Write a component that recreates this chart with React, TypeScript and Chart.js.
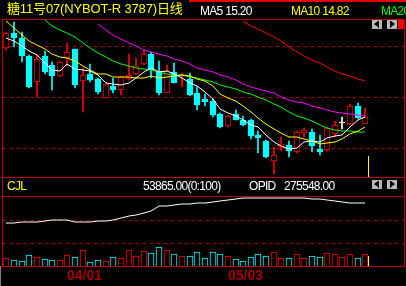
import React, { useEffect, useRef } from "react";
import { Chart, registerables } from "chart.js";

Chart.register(...registerables);

// ---------- text ----------
const titleText = "糖11号07(NYBOT-R 3787)日线";
const legendNames = ["MA5", "MA10", "MA20"];
const legendValues = ["15.20", "14.82", "14.61"];
const volumeTitle = "CJL";
const volumeValueText = "53865.00(0:100)";
const oiName = "OPID";
const oiValueText = "275548.00";

// ---------- x axis date ticks ----------
const dateTickIndex = [8, 29];
const dateTickLabel = ["04/01", "05/03"];

// ---------- daily candles ----------
const opens = [17.91, 18.51, 18.3, 17.6, 16.58, 17.62, 17.25, 16.84, 17.54, 17.88, 16.63, 16.91, 16.71, 15.97, 16.44, 16.27, 16.71, 16.89, 17.28, 17.69, 17.03, 16.17, 16.97, 16.84, 16.71, 16.17, 15.91, 15.85, 15.33, 14.85, 15.33, 15.11, 15.11, 14.51, 14.29, 13.5, 14.03, 14.12, 13.83, 14.58, 14.62, 13.96, 13.91, 14.54, 14.97, 14.94, 15.64, 14.96];
const highs = [18.55, 18.94, 18.54, 17.63, 17.65, 17.8, 17.36, 17.41, 18.12, 17.9, 17.14, 17.31, 16.75, 16.55, 16.73, 16.82, 17.69, 17.53, 17.84, 17.78, 17.42, 17.25, 17.35, 16.94, 16.94, 16.4, 16.12, 15.91, 15.37, 15.29, 15.5, 15.25, 15.14, 14.67, 14.31, 14.04, 14.43, 14.29, 14.67, 14.78, 14.75, 14.51, 14.81, 15.07, 15.22, 15.71, 15.75, 15.56];
const lows = [17.85, 17.95, 17.38, 16.34, 16.01, 16.92, 16.29, 16.8, 17.23, 16.37, 15.42, 16.6, 16.13, 15.96, 16.16, 16.08, 16.67, 16.86, 17.25, 16.75, 16.08, 16.16, 16.55, 16.38, 16.04, 15.49, 15.65, 15.2, 14.77, 14.82, 15.1, 14.86, 14.35, 13.8, 13.59, 12.98, 13.88, 13.65, 13.8, 14.43, 13.84, 13.73, 13.89, 14.43, 14.75, 14.92, 15.14, 14.94];
const closes = [18.5, 18.3, 17.6, 16.39, 17.49, 16.97, 16.84, 17.36, 17.75, 16.47, 16.86, 16.68, 16.21, 16.5, 16.29, 16.77, 16.86, 17.22, 17.69, 17.06, 16.15, 17.03, 16.56, 16.85, 16.08, 15.69, 15.8, 15.29, 14.81, 15.27, 15.11, 14.9, 14.46, 14.38, 13.64, 13.73, 14.16, 13.89, 14.62, 14.7, 14.09, 13.83, 14.77, 14.9, 14.97, 15.64, 15.17, 15.2];

// ---------- moving averages ----------
const ma5 = [18.3, 18.2, 18.01, 17.79, 17.66, 17.35, 17.06, 17.01, 17.28, 17.08, 17.06, 17.02, 16.85, 16.54, 16.51, 16.49, 16.53, 16.73, 16.97, 17.12, 17.0, 17.03, 16.9, 16.73, 16.53, 16.44, 16.2, 15.94, 15.53, 15.37, 15.26, 15.08, 14.91, 14.82, 14.5, 14.22, 14.07, 13.96, 14.01, 14.22, 14.29, 14.23, 14.4, 14.46, 14.51, 14.82, 15.09, 15.2];
const ma10 = [18.98, 18.71, 18.42, 18.2, 18.04, 17.88, 17.69, 17.56, 17.52, 17.4, 17.2, 17.04, 16.9, 16.91, 16.79, 16.77, 16.78, 16.76, 16.76, 16.81, 16.74, 16.78, 16.81, 16.85, 16.83, 16.72, 16.61, 16.42, 16.13, 15.95, 15.85, 15.64, 15.43, 15.18, 14.94, 14.74, 14.58, 14.44, 14.42, 14.36, 14.26, 14.15, 14.18, 14.23, 14.37, 14.56, 14.66, 14.82];
const ma20 = [null, null, null, null, null, 19.01, 18.8, 18.64, 18.51, 18.34, 18.12, 17.93, 17.73, 17.56, 17.42, 17.31, 17.21, 17.14, 17.09, 17.06, 16.97, 16.91, 16.86, 16.85, 16.8, 16.73, 16.67, 16.57, 16.46, 16.38, 16.3, 16.21, 16.12, 16.01, 15.88, 15.73, 15.59, 15.43, 15.27, 15.16, 15.05, 14.89, 14.8, 14.71, 14.65, 14.65, 14.62, 14.61];
const ma40 = [null, null, null, null, null, null, null, null, null, null, null, null, 18.87, 18.63, 18.43, 18.27, 18.13, 17.99, 17.86, 17.75, 17.67, 17.59, 17.51, 17.43, 17.3, 17.15, 17.07, 16.98, 16.88, 16.79, 16.68, 16.52, 16.4, 16.33, 16.24, 16.14, 16.0, 15.89, 15.81, 15.75, 15.66, 15.57, 15.5, 15.42, 15.36, 15.33, 15.29, 15.27];
const ma60 = [null, null, null, null, null, null, null, null, null, null, null, null, null, null, null, null, null, null, null, null, null, null, null, null, null, null, null, null, null, null, null, 18.98, 18.78, 18.66, 18.51, 18.36, 18.18, 17.97, 17.78, 17.62, 17.46, 17.32, 17.16, 17.03, 16.9, 16.81, 16.71, 16.63];

// ---------- volume panel ----------
const volumes = [33700, 24900, 20600, 46800, 40700, 29300, 24900, 24900, 46800, 38100, 68700, 16200, 24900, 20600, 38100, 33700, 68700, 42400, 64300, 55600, 81800, 68700, 51200, 42400, 42400, 60000, 33700, 61300, 52500, 42400, 29300, 20600, 38100, 52500, 42400, 61300, 33700, 33700, 52500, 33700, 42400, 38100, 56900, 52500, 38100, 52500, 33700, 53865];
const openInterest = [186900, 189500, 191200, 191200, 192500, 196900, 201300, 202600, 202600, 191200, 192500, 193900, 195600, 196900, 200000, 208700, 217500, 224500, 230600, 240700, 260400, 263900, 265600, 269100, 272600, 274400, 275700, 278800, 283100, 287500, 291900, 295400, 298900, 298900, 296300, 297600, 298900, 298900, 298900, 298900, 293200, 291000, 288800, 285800, 281400, 275700, 274400, 275548];

// ---------- axis ranges / guide levels ----------
const priceGridLevels = [14, 16, 18];
const volumeGridLevels = [100000, 200000];
const PRICE_MIN = 12.863;
const PRICE_MAX = 19.02;
const VOLUME_MAX = 306000;
const X_MIN = -0.5;
const X_MAX = 52.05;

// ---------- styles ----------
const RED = "#FF0000";
const CYAN = "#00FFFF";
const WHITE = "#FFFFFF";
const YELLOW = "#FFFF00";
const GREEN = "#00FF00";
const MAGENTA = "#FF00FF";
const FRAME = "#C00000";
const DASH = "#A00000";
const DATE_RED = "#A80000";
const BODY_W = 6;
const FONT = '"Liberation Sans", "Noto Sans CJK SC", Arial, sans-serif';

const candleColor = (i: number) =>
  closes[i] > opens[i] ? RED : closes[i] < opens[i] ? CYAN : WHITE;
const volumeColor = (i: number) => (closes[i] >= opens[i] ? RED : CYAN);

const dashedGrid = (levels: number[]) => ({
  id: "dashedGrid",
  beforeDatasetsDraw(chart: any) {
    const { ctx, chartArea, scales } = chart;
    ctx.save();
    ctx.strokeStyle = DASH;
    ctx.lineWidth = 1;
    ctx.setLineDash([4, 3]);
    for (const v of levels) {
      const y = Math.round(scales.y.getPixelForValue(v)) + 0.5;
      ctx.beginPath();
      ctx.moveTo(chartArea.left, y);
      ctx.lineTo(chartArea.right, y);
      ctx.stroke();
    }
    ctx.restore();
  },
});

const cursorMark = (len: number) => ({
  id: "cursorMark",
  afterDatasetsDraw(chart: any) {
    const { ctx, chartArea, scales } = chart;
    const last = closes.length - 1;
    const x = Math.round(scales.x.getPixelForValue(last) + BODY_W / 2) + 0.5;
    ctx.save();
    ctx.strokeStyle = YELLOW;
    ctx.lineWidth = 1;
    ctx.beginPath();
    ctx.moveTo(x, chartArea.bottom - len);
    ctx.lineTo(x, chartArea.bottom);
    ctx.stroke();
    ctx.restore();
  },
});

const lineDs = (vals: (number | null)[], color: string, order: number) => ({
  type: "line" as const,
  data: vals.map((v, i) => ({ x: i, y: v })),
  borderColor: color,
  borderWidth: 1,
  pointRadius: 0,
  tension: 0,
  fill: false,
  spanGaps: false,
  order,
});

const commonOptions = {
  responsive: false,
  maintainAspectRatio: false,
  animation: false as const,
  events: [] as any[],
  plugins: { legend: { display: false }, tooltip: { enabled: false }, title: { display: false } },
};

function buildMain(canvas: HTMLCanvasElement) {
  return new Chart(canvas, {
    type: "bar",
    data: {
      datasets: [
        lineDs(ma5, WHITE, 0),
        lineDs(ma10, YELLOW, 1),
        lineDs(ma20, GREEN, 2),
        lineDs(ma40, MAGENTA, 3),
        lineDs(ma60, RED, 4),
        {
          type: "bar",
          data: opens.map((o, i) => ({ x: i, y: [o, closes[i]] })),
          backgroundColor: opens.map((o, i) => (closes[i] > o ? "#000000" : candleColor(i))),
          borderColor: opens.map((_, i) => candleColor(i)),
          borderWidth: 1,
          borderSkipped: false,
          barThickness: BODY_W,
          minBarLength: 1,
          grouped: false,
          order: 10,
        },
        {
          type: "bar",
          data: lows.map((l, i) => ({ x: i, y: [l, highs[i]] })),
          backgroundColor: lows.map((_, i) => candleColor(i)),
          borderWidth: 0,
          barThickness: 1,
          grouped: false,
          order: 11,
        },
      ] as any,
    },
    options: {
      ...commonOptions,
      layout: { padding: { left: 2.5, right: 2, top: 20, bottom: 1 } },
      scales: {
        x: { type: "linear", min: X_MIN, max: X_MAX, offset: false, display: false, alignToPixels: true },
        y: { type: "linear", min: PRICE_MIN, max: PRICE_MAX, display: false, alignToPixels: true },
      },
    } as any,
    plugins: [dashedGrid(priceGridLevels), cursorMark(21)],
  });
}

function buildVolume(canvas: HTMLCanvasElement) {
  return new Chart(canvas, {
    type: "bar",
    data: {
      datasets: [
        lineDs(openInterest, WHITE, 0),
        {
          type: "bar",
          data: volumes.map((v, i) => ({ x: i, y: v })),
          backgroundColor: "#000000",
          borderColor: volumes.map((_, i) => volumeColor(i)),
          borderWidth: 1,
          borderSkipped: "start",
          barThickness: BODY_W,
          grouped: false,
          order: 5,
        },
      ] as any,
    },
    options: {
      ...commonOptions,
      layout: { padding: { left: 2.5, right: 2, top: 18, bottom: 0 } },
      scales: {
        x: {
          type: "linear",
          min: X_MIN,
          max: X_MAX,
          offset: false,
          alignToPixels: true,
          afterBuildTicks: (axis: any) => {
            axis.ticks = dateTickIndex.map((v) => ({ value: v }));
          },
          grid: { display: false, drawTicks: false },
          border: { display: false },
          ticks: {
            autoSkip: false,
            maxRotation: 0,
            minRotation: 0,
            align: "start",
            padding: 3,
            color: DATE_RED,
            font: { family: FONT, size: 14, weight: "bold", lineHeight: 1 },
            callback: (value: any) => {
              const k = dateTickIndex.indexOf(Number(value));
              return k >= 0 ? dateTickLabel[k] : "";
            },
          },
        },
        y: { type: "linear", min: 0, max: VOLUME_MAX, display: false, alignToPixels: true },
      },
    } as any,
    plugins: [dashedGrid(volumeGridLevels), cursorMark(10)],
  });
}

const abs = (left: number, top: number, width: number, height: number, bg: string): React.CSSProperties => ({
  position: "absolute",
  left,
  top,
  width,
  height,
  background: bg,
});

const txt = (left: number, top: number, color: string, size = 12, spacing = -0.7): React.CSSProperties => ({
  position: "absolute",
  left,
  top,
  color,
  fontFamily: FONT,
  fontSize: size,
  lineHeight: `${size}px`,
  letterSpacing: `${spacing}px`,
  whiteSpace: "pre",
});

function NavIcon({ left, top, dir }: { left: number; top: number; dir: "l" | "r" }) {
  return (
    <div style={abs(left, top, 10, 9, "#B8B8B8")}>
      {dir === "l" ? (
        <>
          <div style={{ position: "absolute", left: 2, top: 1, width: 0, height: 0, borderTop: "3.5px solid transparent", borderBottom: "3.5px solid transparent", borderRight: "4px solid #000" }} />
          <div style={abs(6, 1, 1, 7, "#000")} />
        </>
      ) : (
        <>
          <div style={abs(3, 1, 1, 7, "#000")} />
          <div style={{ position: "absolute", left: 4, top: 1, width: 0, height: 0, borderTop: "3.5px solid transparent", borderBottom: "3.5px solid transparent", borderLeft: "4px solid #000" }} />
        </>
      )}
    </div>
  );
}

export default function App() {
  const mainRef = useRef<HTMLCanvasElement>(null);
  const volRef = useRef<HTMLCanvasElement>(null);

  useEffect(() => {
    const main = buildMain(mainRef.current as HTMLCanvasElement);
    const vol = buildVolume(volRef.current as HTMLCanvasElement);
    return () => {
      main.destroy();
      vol.destroy();
    };
  }, []);

  return (
    <div style={{ position: "absolute", left: 0, top: 0, width: 406, height: 286, background: "#000", overflow: "hidden" }}>
      <canvas ref={mainRef} width={406} height={178} style={{ position: "absolute", left: 0, top: 0, width: 406, height: 178 }} />
      <canvas ref={volRef} width={406} height={108} style={{ position: "absolute", left: 0, top: 178, width: 406, height: 108 }} />

      {/* frame */}
      <div style={abs(189, 0, 217, 2, "#E80000")} />
      <div style={abs(2, 19, 403, 1, FRAME)} />
      <div style={abs(2, 177, 403, 1, FRAME)} />
      <div style={abs(2, 196, 403, 1, FRAME)} />
      <div style={abs(2, 266, 403, 1, FRAME)} />
      <div style={abs(2, 19, 1, 248, FRAME)} />
      <div style={abs(404, 19, 1, 248, FRAME)} />
      <div style={abs(0, 266, 1, 20, "#808080")} />

      {/* header */}
      <span style={txt(7, 2, YELLOW, 13, -0.15)}>{titleText}</span>
      <span style={txt(200, 5, WHITE)}>{`${legendNames[0]} ${legendValues[0]}`}</span>
      <span style={txt(291, 5, YELLOW)}>{`${legendNames[1]} ${legendValues[1]}`}</span>
      <span style={txt(381, 5, GREEN)}>{`${legendNames[2]} ${legendValues[2]}`}</span>

      <NavIcon left={372} top={20} dir="l" />
      <NavIcon left={387} top={20} dir="r" />
      <div style={abs(398, 20, 6, 9, RED)} />

      {/* volume header */}
      <span style={txt(7, 180, YELLOW)}>{volumeTitle}</span>
      <span style={txt(143, 180, WHITE)}>{volumeValueText}</span>
      <span style={txt(249, 180, WHITE)}>{oiName}</span>
      <span style={txt(284, 180, WHITE)}>{oiValueText}</span>
      <NavIcon left={372} top={180} dir="l" />
      <NavIcon left={387} top={180} dir="r" />
    </div>
  );
}
